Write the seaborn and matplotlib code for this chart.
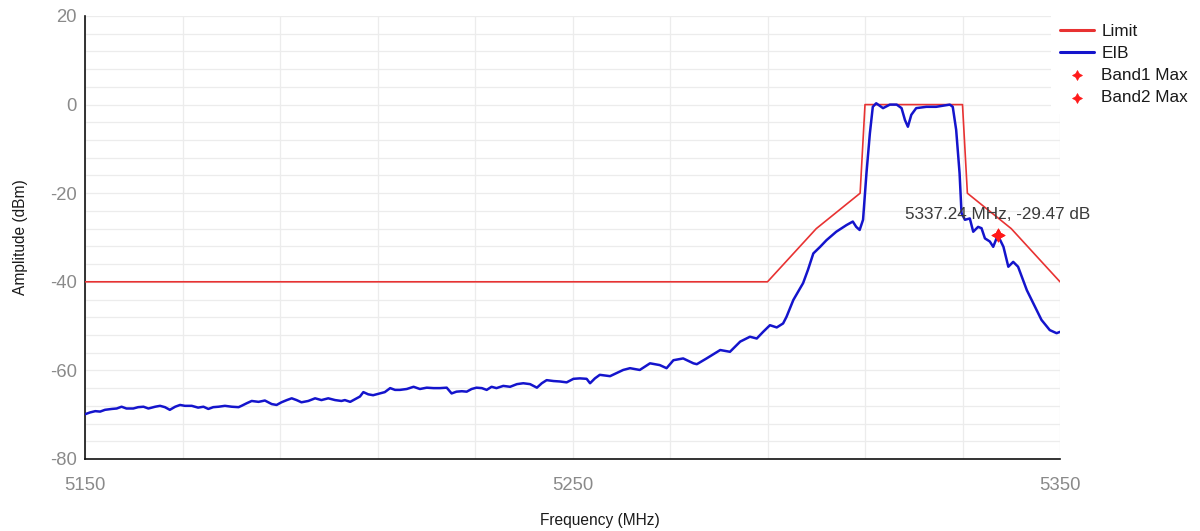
import matplotlib
matplotlib.use("Agg")
import matplotlib.pyplot as plt
from matplotlib.ticker import MultipleLocator
import seaborn as sns
import pandas as pd

# Spectral emission mask (limit line)
limit_freq = [5150, 5290, 5300, 5309, 5310, 5330, 5331, 5340, 5350]
limit_amp = [-40, -40, -28, -20, 0, 0, -20, -28, -40]

# Measured emission trace (EIB)
eib_freq = [
    5150.0, 5151.0, 5152.1, 5153.1, 5154.1, 5155.5, 5156.5, 5157.5, 5158.5, 5159.9,
    5160.9, 5162.0, 5163.0, 5164.4, 5165.4, 5166.4, 5167.4, 5168.5, 5169.5, 5170.5,
    5171.9, 5173.2, 5174.3, 5175.3, 5176.3, 5177.4, 5178.7, 5180.1, 5181.5, 5182.1,
    5183.2, 5184.2, 5185.6, 5186.9, 5188.3, 5189.3, 5190.3, 5191.4, 5192.4, 5193.4,
    5194.4, 5195.8, 5197.2, 5198.5, 5199.9, 5201.3, 5202.6,
    5203.3, 5204.4, 5205.4, 5206.4, 5207.1, 5208.1, 5209.1, 5210.5, 5211.5, 5212.6,
    5213.6, 5214.6, 5216.0, 5217.4, 5218.7, 5220.1, 5221.5, 5222.8, 5224.2, 5225.2,
    5226.2, 5227.3, 5228.3, 5229.3, 5230.3, 5231.4, 5232.4, 5233.4, 5234.4, 5235.8,
    5237.2, 5238.6, 5239.9, 5241.3, 5242.7, 5243.7, 5244.7, 5246.1, 5247.4, 5248.8,
    5250.2, 5251.5, 5252.9, 5253.6, 5254.6, 5255.6,
    5257.7, 5260.4, 5261.8, 5263.8, 5265.9, 5267.9, 5269.3, 5270.7, 5272.7, 5274.8,
    5275.5, 5277.5, 5280.3, 5282.3, 5284.4, 5286.4, 5287.8, 5289.1, 5290.5, 5291.9,
    5293.2, 5293.9, 5295.3, 5297.3, 5298.3, 5299.4, 5300.8, 5302.1, 5304.1, 5306.2,
    5307.5, 5308.2, 5308.9, 5309.6, 5310.3, 5311.0, 5311.6, 5312.3, 5313.7, 5315.1,
    5316.5, 5317.5, 5318.2, 5318.8, 5319.5, 5320.5, 5322.6, 5324.6, 5327.4, 5328.0,
    5328.7, 5329.4, 5329.8, 5330.5, 5331.5, 5332.2, 5333.2, 5333.9, 5334.6, 5335.6,
    5336.3, 5337.24, 5338.4, 5339.4, 5340.4, 5341.4, 5343.2, 5345.2, 5346.2, 5347.9,
    5349.3, 5350.0,
]
eib_amp = [
    -69.9, -69.5, -69.2, -69.3, -68.9, -68.7, -68.6, -68.2, -68.6, -68.6,
    -68.3, -68.2, -68.6, -68.2, -68.0, -68.3, -68.9, -68.2, -67.8, -68.0,
    -68.0, -68.4, -68.2, -68.7, -68.3, -68.2, -68.0, -68.2, -68.3, -68.0,
    -67.4, -66.9, -67.1, -66.8, -67.6, -67.8, -67.2, -66.7, -66.3, -66.7,
    -67.2, -66.9, -66.3, -66.7, -66.3, -66.7, -66.9,
    -66.7, -67.1, -66.5, -65.9, -64.9, -65.4, -65.6, -65.2, -64.9, -64.0,
    -64.4, -64.4, -64.2, -63.7, -64.2, -63.9, -64.0, -64.0, -63.9, -65.2,
    -64.8, -64.7, -64.8, -64.2, -63.9, -64.0, -64.4, -63.7, -64.0, -63.5,
    -63.7, -63.1, -62.9, -63.1, -63.9, -62.9, -62.2, -62.4, -62.5, -62.7,
    -61.9, -61.8, -61.9, -62.9, -61.8, -61.0,
    -61.3, -59.9, -59.5, -59.9, -58.4, -58.8, -59.5, -57.7, -57.3, -58.4,
    -58.6, -57.3, -55.4, -55.8, -53.5, -52.4, -52.8, -51.3, -49.8, -50.3,
    -49.4, -47.9, -44.1, -40.3, -37.3, -33.6, -32.1, -30.6, -28.7, -27.2,
    -26.4, -27.6, -28.3, -26.0, -15.5, -6.5, -0.5, 0.3, -0.8, 0.0,
    0.0, -0.8, -3.5, -5.0, -2.3, -0.8, -0.5, -0.5, 0.0, -0.5,
    -5.7, -15.5, -24.5, -26.0, -25.7, -28.7, -27.6, -27.9, -30.2, -30.9,
    -32.1, -29.47, -32.1, -36.6, -35.5, -36.6, -41.9, -46.4, -48.6, -50.9,
    -51.6, -51.3,
]

# Peak markers
band1_freq = [5337.24]
band1_amp = [-29.47]
band2_freq = [5337.24]
band2_amp = [-29.47]

x_ticks = [5150, 5250, 5350]
y_ticks = [20, 0, -20, -40, -60, -80]

sns.set_style("white")
plt.rcParams["font.family"] = ["Liberation Sans", "DejaVu Sans"]
plt.rcParams["axes.unicode_minus"] = False

fig = plt.figure(figsize=(12, 5.31), dpi=100)
ax = fig.add_axes([85 / 1200, 1 - 459 / 531, 975 / 1200, 443 / 531])

limit_df = pd.DataFrame({"freq": limit_freq, "amp": limit_amp})
eib_df = pd.DataFrame({"freq": eib_freq, "amp": eib_amp})

sns.lineplot(data=limit_df, x="freq", y="amp", ax=ax, color="#e83232",
             linewidth=1.2, estimator=None, sort=False, label="Limit", zorder=3)
sns.lineplot(data=eib_df, x="freq", y="amp", ax=ax, color="#1414cc",
             linewidth=1.8, estimator=None, sort=False, label="EIB", zorder=4)

star = (4, 1, 0)
sns.scatterplot(x=band1_freq, y=band1_amp, ax=ax, marker=star, s=90,
                color="#ff1a1a", edgecolor="#ff1a1a", linewidth=0.5,
                label="Band1 Max", zorder=5)
sns.scatterplot(x=band2_freq, y=band2_amp, ax=ax, marker=star, s=90,
                color="#ff1a1a", edgecolor="#ff1a1a", linewidth=0.5,
                label="Band2 Max", zorder=5)

ax.annotate(f"{band2_freq[0]:.2f} MHz, {band2_amp[0]:.2f} dB",
            xy=(band2_freq[0], band2_amp[0]), xytext=(0, 15),
            textcoords="offset points", ha="center", va="center",
            fontsize=12.3, color="#3a3a3a", zorder=6)

ax.set_xlim(5150, 5350)
ax.set_ylim(-80, 20)
ax.set_xticks(x_ticks)
ax.set_yticks(y_ticks)
ax.xaxis.set_minor_locator(MultipleLocator(20, offset=10))
ax.yaxis.set_minor_locator(MultipleLocator(4))
ax.grid(True, which="both", color="#ececec", linewidth=0.9)
ax.set_axisbelow(True)

ax.tick_params(axis="both", which="both", length=0, labelsize=13.3,
               labelcolor="#8a8a8a")
ax.tick_params(axis="x", pad=13)
ax.tick_params(axis="y", pad=6)

for side in ("top", "right"):
    ax.spines[side].set_visible(False)
for side in ("left", "bottom"):
    ax.spines[side].set_color("#111111")
    ax.spines[side].set_linewidth(1.2)

ax.set_xlabel("Frequency (MHz)", fontsize=11.2, color="#1a1a1a")
ax.set_ylabel("Amplitude (dBm)", fontsize=11.2, color="#1a1a1a")
ax.xaxis.set_label_coords(0.528, -0.122)
ax.yaxis.set_label_coords(-0.058, 0.5)

leg = ax.legend(loc="upper left", bbox_to_anchor=(1051 / 1200, 1 - 15 / 531),
                bbox_transform=fig.transFigure, borderaxespad=0,
                frameon=True, facecolor="white", edgecolor="none",
                fancybox=False, framealpha=1, fontsize=12.3,
                borderpad=0.5, handlelength=2.0, handletextpad=0.45,
                labelspacing=0.42, markerscale=0.75)
for line in leg.get_lines():
    line.set_linewidth(2.2)
for text in leg.get_texts():
    text.set_color("#1a1a1a")

fig.savefig("out.png", dpi=100)
